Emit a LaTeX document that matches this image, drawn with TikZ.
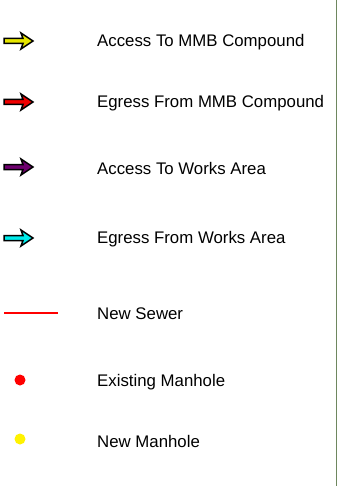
\documentclass[tikz,border=0pt]{standalone}
\usepackage{fontspec}
\setmainfont{Liberation Sans}
\usetikzlibrary{positioning}

\tikzset{
  legendtext/.style={anchor=west, inner sep=0pt, font=\fontsize{16.8}{19}\selectfont},
  blockarrow/.style={draw=black, line width=1.5pt, line join=miter},
  manhole/.style={circle, inner sep=0pt, minimum size=11pt}
}

\begin{document}
\begin{tikzpicture}[x=1pt, y=-1pt]
        % Fix the page size
        \useasboundingbox (0,0) rectangle (337,489);

        % Border line on the right
        \draw[color={rgb,255:red,110;green,135;blue,95}, line width=1pt] (336,0) -- (336,486);

        % Add the arrow symbols
        \filldraw[blockarrow, fill={rgb,255:red,230;green,230;blue,0}]
          (4,38.5) -- (23,38.5) -- (21,33) -- (33,41) -- (21,49) -- (23,43.5) -- (4,43.5) -- cycle;
        \filldraw[blockarrow, fill={rgb,255:red,240;green,0;blue,0}]
          (4,99.5) -- (23,99.5) -- (21,94) -- (33,102) -- (21,110) -- (23,104.5) -- (4,104.5) -- cycle;
        \filldraw[blockarrow, fill={rgb,255:red,110;green,0;blue,110}]
          (4,164.5) -- (23,164.5) -- (21,159) -- (33,167) -- (21,175) -- (23,169.5) -- (4,169.5) -- cycle;
        \filldraw[blockarrow, fill={rgb,255:red,0;green,235;blue,235}]
          (4,235.5) -- (23,235.5) -- (21,230) -- (33,238) -- (21,246) -- (23,240.5) -- (4,240.5) -- cycle;

        % Sewer line and manholes
        \coordinate (sewerA) at (4,313);
        \coordinate (sewerB) at (58,313);
        \draw[red, line width=2.2pt] (sewerA) -- (sewerB);
        \node[manhole, fill=red] (oldhole) at (20,380) {};
        \node[manhole, fill=yellow] (newhole) at (20,439) {};

        % Add the legend texts
        \node[legendtext] (accmmb) at (97,42) {Access To MMB Compound};
        \node[legendtext] (egrmmb) at (97,103) {Egress From MMB Compound};
        \node[legendtext] (accworks) at (97,168) {Access To Works Area};
        \node[legendtext] (egrworks) at (97,239) {Egress From Works Area};
        \node[legendtext] (sewer) at (97,314) {New Sewer};
        \node[legendtext] (exist) at (97,382) {Existing Manhole};
        \node[legendtext] (newmh) at (97,441) {New Manhole};
    \end{tikzpicture}
\end{document}
